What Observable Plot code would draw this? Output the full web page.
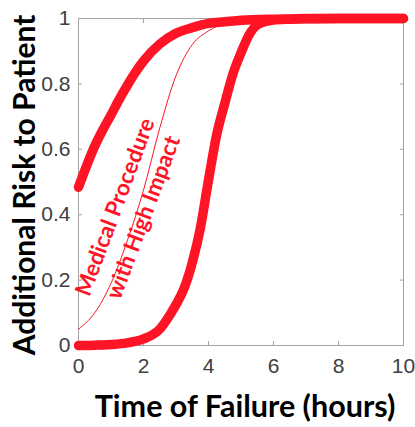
<!DOCTYPE html>
<html>
<head>
<meta charset="utf-8">
<script src="https://cdn.jsdelivr.net/npm/d3@7"></script>
<script src="https://cdn.jsdelivr.net/npm/@observablehq/plot@0.6"></script>
<style>
  html, body { margin: 0; padding: 0; background: #fff; }
  #chart svg { display: block; }
</style>
</head>
<body>
<div id="chart"></div>
<script>
// Upper thick curve
const timeA = [0, 0.25, 0.5, 0.75, 1, 1.25, 1.5, 1.75, 2, 2.5, 3, 3.5, 4, 4.5, 5, 6, 7, 8, 9, 10];
const riskA = [0.484, 0.55, 0.61, 0.66, 0.705, 0.752, 0.795, 0.835, 0.87, 0.922, 0.955, 0.972, 0.985, 0.99, 0.995, 0.998, 0.999, 1, 1, 1];
// Thin middle curve
const timeB = [0, 0.5, 1, 1.5, 2, 2.5, 3, 3.5, 4, 4.5, 5, 6, 7, 8, 9, 10];
const riskB = [0.05, 0.10, 0.19, 0.32, 0.475, 0.665, 0.825, 0.92, 0.962, 0.985, 0.995, 1, 1, 1, 1, 1];
// Lower thick curve
const timeC = [0, 0.5, 1, 1.5, 2, 2.5, 2.82, 3, 3.25, 3.5, 3.75, 4, 4.25, 4.5, 4.75, 5, 5.25, 5.5, 6, 6.5, 7, 8, 9, 10];
const riskC = [0, 0.001, 0.003, 0.008, 0.02, 0.05, 0.095, 0.125, 0.175, 0.253, 0.359, 0.506, 0.644, 0.74, 0.83, 0.895, 0.95, 0.98, 0.995, 0.998, 1, 1, 1, 1];

const xTicks = [0, 2, 4, 6, 8, 10];
const yTicks = [0, 0.2, 0.4, 0.6, 0.8, 1];
const xTitle = "Time of Failure (hours)";
const yTitle = "Additional Risk to Patient";
const annotation = [{label: "Medical Procedure\nwith High Impact", time: 1.5, risk: 0.41}];

const toRows = (ts, vs) => ts.map((t, i) => ({time: t, risk: vs[i]}));
const curveA = toRows(timeA, riskA);
const curveB = toRows(timeB, riskB);
const curveC = toRows(timeC, riskC);

const red = "#ff1426";
const gray = "#a3a3a3";
const tickFont = "'Liberation Sans Narrow', 'Liberation Sans', Arial, sans-serif";
const titleFont = "Lato, 'Open Sans', sans-serif";
const fmt = d => String(d);

const chart = Plot.plot({
  width: 415,
  height: 427,
  marginLeft: 78,
  marginRight: 12,
  marginTop: 18,
  marginBottom: 82,
  style: {background: "#fff", overflow: "visible"},
  x: {domain: [0, 10]},
  y: {domain: [0, 1]},
  marks: [
    Plot.frame({stroke: gray}),
    Plot.axisX(xTicks, {anchor: "bottom", tickSize: -4, tickPadding: 17, stroke: gray, color: "#404040", fontSize: 21, fontFamily: tickFont, tickFormat: fmt, label: null}),
    Plot.axisX(xTicks, {anchor: "top", tickSize: -4, stroke: gray, tickFormat: () => "", label: null}),
    Plot.axisY(yTicks, {anchor: "left", tickSize: -4, tickPadding: 12, stroke: gray, color: "#404040", fontSize: 21, fontFamily: tickFont, tickFormat: fmt, label: null}),
    Plot.axisY(yTicks, {anchor: "right", tickSize: -4, stroke: gray, tickFormat: () => "", label: null}),
    Plot.line(curveB, {x: "time", y: "risk", stroke: red, strokeWidth: 1, curve: "monotone-x"}),
    Plot.line(curveA, {x: "time", y: "risk", stroke: red, strokeWidth: 9.5, strokeLinecap: "round", curve: "monotone-x"}),
    Plot.line(curveC, {x: "time", y: "risk", stroke: red, strokeWidth: 9.5, strokeLinecap: "round", curve: "monotone-x"}),
    Plot.text(annotation, {x: "time", y: "risk", text: "label", rotate: -69.5, fill: red, fontSize: 22.5, fontWeight: "bold", fontFamily: titleFont, lineHeight: 1.33, textAnchor: "middle", lineAnchor: "middle"}),
    Plot.text([xTitle], {frameAnchor: "bottom", dx: 4, dy: 62, fontSize: 30.5, fontWeight: "bold", fontFamily: titleFont, fill: "#000", textAnchor: "middle", lineAnchor: "middle"}),
    Plot.text([yTitle], {frameAnchor: "left", dx: -53, dy: 3, rotate: -90, fontSize: 30, fontWeight: "bold", fontFamily: titleFont, fill: "#000", textAnchor: "middle", lineAnchor: "middle"})
  ]
});
document.getElementById("chart").appendChild(chart);
</script>
</body>
</html>
